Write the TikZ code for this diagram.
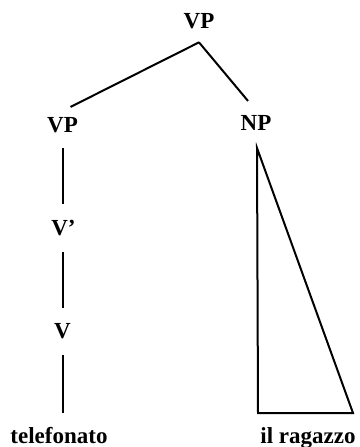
\documentclass[tikz,border=0pt]{standalone}
\usepackage{fontspec}
\setmainfont{Liberation Serif}
\begin{document}
\begin{tikzpicture}[x=1pt,y=-1pt,
  lab/.style={anchor=base,inner sep=0pt,outer sep=0pt,font=\bfseries\fontsize{23}{27}\selectfont},
  edge/.style={line width=2pt}]
\useasboundingbox (0,0) rectangle (359,447);
\node[lab] (top)  at (199,28.5) {VP};
\node[lab] (vpl)  at (62.5,132) {VP};
\node[lab] (np)   at (256,130) {NP};
\node[lab] (vbar) at (63.5,235) {V’};
\node[lab] (v)    at (62.5,338) {V};
\node[lab] (tel)  at (59,443) {telefonato};
\node[lab] (rag)  at (308,443) {il ragazzo};
\draw[edge] ([yshift=-13.5pt]top.south) -- ([xshift=8pt,yshift=10pt]vpl.north);
\draw[edge] ([yshift=-13.5pt]top.south) -- ([xshift=-8pt,yshift=14pt]np.north);
\draw[edge] ([yshift=-16pt]vpl.south) -- ([xshift=-1pt,yshift=16pt]vbar.north);
\draw[edge] ([xshift=-1pt,yshift=-17pt]vbar.south) -- ([yshift=15pt]v.north);
\draw[edge] ([yshift=-17pt]v.south) -- ([xshift=3.5pt,yshift=14pt]tel.north);
\draw[edge] ([xshift=1pt,yshift=-18pt]np.south) -- ([xshift=-50pt,yshift=14pt]rag.north)
  -- ([xshift=45pt,yshift=14pt]rag.north) -- cycle;
\end{tikzpicture}
\end{document}
